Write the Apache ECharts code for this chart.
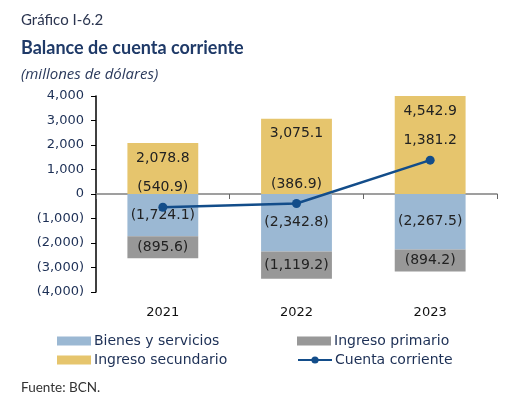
<!DOCTYPE html>
<html>
<head>
<meta charset="utf-8">
<script src="https://cdn.jsdelivr.net/npm/echarts@6/dist/echarts.min.js"></script>
<style>
  html, body { margin: 0; padding: 0; background: #fff; }
  #chart { width: 511px; height: 396px; }
</style>
</head>
<body>
<div id="chart"></div>
<script>
const years = ['2021', '2022', '2023'];
const bienes = [-1724.1, -2342.8, -2267.5];
const primario = [-895.6, -1119.2, -894.2];
const secundario = [2078.8, 3075.1, 4542.9];
const cuenta = [-540.9, -386.9, 1381.2];

const navy = '#1c2f55';

function fmt(v, dec) {
  const s = Math.abs(v).toLocaleString('en-US', { minimumFractionDigits: dec, maximumFractionDigits: dec });
  return v < 0 ? '(' + s + ')' : s;
}

const labelStyle = {
  show: true,
  fontFamily: 'DejaVu Sans',
  fontSize: 14,
  color: '#222',
  formatter: p => fmt(p.value, 1)
};

const chart = echarts.init(document.getElementById('chart'));
const option = {
  animation: false,
  textStyle: { fontFamily: 'DejaVu Sans' },
  title: [
    { text: 'Gráfico I-6.2', left: 16, top: 8,
      textStyle: { fontFamily: 'Lato', fontSize: 15, fontWeight: 'normal', color: '#2b3550' } },
    { text: 'Balance de cuenta corriente', left: 16, top: 34,
      textStyle: { fontFamily: 'Lato', fontSize: 18, fontWeight: 'bold', color: '#1f3a68' } },
    { text: '(millones de dólares)', left: 16, top: 62,
      textStyle: { fontFamily: 'Open Sans', fontSize: 15, fontStyle: 'italic', fontWeight: 'normal', color: '#2b3a5c' } },
    { text: 'Fuente: BCN.', left: 16, top: 376,
      textStyle: { fontFamily: 'Lato', fontSize: 13.5, fontWeight: 'normal', color: '#333' } }
  ],
  legend: [
    { data: [{ name: 'Bienes y servicios', icon: 'rect' }], left: 52, top: 329 },
    { data: [{ name: 'Ingreso primario', icon: 'rect' }], left: 292, top: 329 },
    { data: [{ name: 'Ingreso secundario', icon: 'rect' }], left: 52, top: 348 },
    { data: ['Cuenta corriente'], left: 292, top: 348 }
  ].map(l => Object.assign(l, {
    itemWidth: 34, itemHeight: 9, itemGap: 4,
    textStyle: { fontFamily: 'DejaVu Sans', fontSize: 14, color: navy, padding: [0, 0, 0, -2] }
  })),
  grid: { left: 96, right: 14, top: 96, bottom: 104, containLabel: false },
  xAxis: [
    {
      type: 'category', data: years,
      axisLine: { onZero: true, lineStyle: { color: '#808080', width: 1.5 } },
      axisTick: { show: true, length: 5, lineStyle: { color: '#666' } },
      axisLabel: { show: false },
      splitLine: { show: false }
    },
    {
      type: 'category', data: years, position: 'bottom',
      axisLine: { show: false }, axisTick: { show: false },
      axisLabel: { margin: 14, fontFamily: 'DejaVu Sans', fontSize: 13, color: '#111' }
    }
  ],
  yAxis: {
    type: 'value', min: -4000, max: 4000, interval: 1000,
    axisLine: { show: true, lineStyle: { color: '#000', width: 1.5 } },
    axisTick: { show: true, length: 5, lineStyle: { color: '#000' } },
    splitLine: { show: false },
    axisLabel: { margin: 12, fontFamily: 'DejaVu Sans', fontSize: 13, color: navy,
      formatter: v => fmt(v, 0) }
  },
  series: [
    { name: 'Bienes y servicios', type: 'bar', stack: 'a', data: bienes, barWidth: '53%',
      itemStyle: { color: '#9bb8d3' },
      label: Object.assign({}, labelStyle, { position: 'inside' }) },
    { name: 'Ingreso primario', type: 'bar', stack: 'a', data: primario,
      itemStyle: { color: '#989898' },
      label: Object.assign({}, labelStyle, { position: 'inside' }) },
    { name: 'Ingreso secundario', type: 'bar', stack: 'a', data: secundario,
      itemStyle: { color: '#e6c56d' },
      label: Object.assign({}, labelStyle, { position: 'insideTop', distance: 8 }) },
    { name: 'Cuenta corriente', type: 'line', data: cuenta,
      symbol: 'circle', symbolSize: 9, z: 5,
      lineStyle: { color: '#134d8a', width: 2.5 },
      itemStyle: { color: '#134d8a' },
      label: Object.assign({}, labelStyle, { position: 'top', distance: 8 }) }
  ]
};
chart.setOption(option);
</script>
</body>
</html>
